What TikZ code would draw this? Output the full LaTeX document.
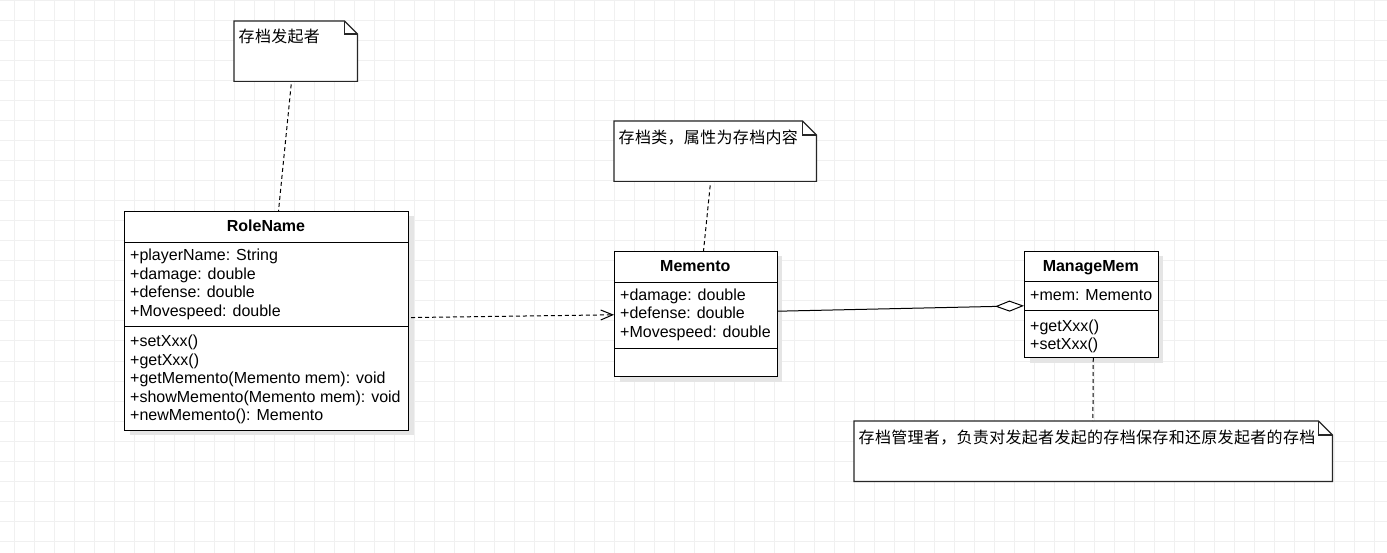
\documentclass[tikz,border=0pt]{standalone}
\usepackage{fontspec}
\setmainfont{Liberation Sans}
\newfontfamily\cjk[LetterSpace=2]{Noto Sans CJK SC}
\usetikzlibrary{arrows.meta,shadows}
\begin{document}
\begin{tikzpicture}[x=1pt,y=-1pt,
  gridline/.style={draw=black!6, line width=1pt},
  classbox/.style={draw=black, line width=1pt, fill=white, inner sep=0pt, anchor=north west,
    drop shadow={shadow xshift=5pt, shadow yshift=-5pt, fill=black!10, opacity=1}},
  sepline/.style={draw=black, line width=1pt},
  notebox/.style={draw=none, inner sep=0pt, anchor=north west},
  noteline/.style={draw=black!85, line width=1.2pt, fill=white, line join=miter},
  notetext/.style={anchor=base west, inner sep=0pt, font={\cjk\fontsize{16}{19}\selectfont}},
  attr/.style={anchor=base west, inner sep=0pt, font={\fontsize{16}{19}\selectfont}},
  head/.style={anchor=base, inner sep=0pt, font={\fontsize{16}{19}\selectfont\bfseries}},
  dashline/.style={draw=black, line width=1pt, dash pattern=on 4pt off 3pt},
  solidline/.style={draw=black, line width=1pt},
]
\useasboundingbox (0,0) rectangle (1387,553);
\fill[white] (0,0) rectangle (1387,553);
\foreach \x in {14,34,...,1374} \draw[gridline] (\x,0) -- (\x,553);
\foreach \y in {1,21,...,541} \draw[gridline] (0,\y) -- (1387,\y);

% ---------- notes ----------
\node[notebox, minimum width=123pt, minimum height=60pt] (n1) at (234,21) {};
\draw[noteline] (n1.north west) -- ([shift={(-13,0)}]n1.north east) -- ([shift={(0,13)}]n1.north east) -- (n1.south east) -- (n1.south west) -- cycle;
\draw[noteline, fill=none] ([shift={(-13,0)}]n1.north east) |- ([shift={(0,13)}]n1.north east);
\node[notetext] (n1t) at (238.5,42.5) {存档发起者};

\node[notebox, minimum width=202pt, minimum height=60pt] (n2) at (614,121) {};
\draw[noteline] (n2.north west) -- ([shift={(-14,0)}]n2.north east) -- ([shift={(0,14)}]n2.north east) -- (n2.south east) -- (n2.south west) -- cycle;
\draw[noteline, fill=none] ([shift={(-14,0)}]n2.north east) |- ([shift={(0,14)}]n2.north east);
\node[notetext] (n2t) at (618.5,144) {存档类，属性为存档内容};

\node[notebox, minimum width=478pt, minimum height=60pt] (n3) at (854,421) {};
\draw[noteline] (n3.north west) -- ([shift={(-14,0)}]n3.north east) -- ([shift={(0,14)}]n3.north east) -- (n3.south east) -- (n3.south west) -- cycle;
\draw[noteline, fill=none] ([shift={(-14,0)}]n3.north east) |- ([shift={(0,14)}]n3.north east);
\node[notetext] (n3t) at (858.5,443.5) {存档管理者，负责对发起者发起的存档保存和还原发起者的存档};

% ---------- RoleName ----------
\node[classbox, minimum width=284pt, minimum height=218.5pt] (role) at (124,211) {};
\draw[sepline] ([shift={(0,31.3)}]role.north west) -- ([shift={(0,31.3)}]role.north east);
\draw[sepline] ([shift={(0,116)}]role.north west) -- ([shift={(0,116)}]role.north east);
\node[head] (rh) at (266,231.5) {RoleName};
\node[attr] (ra1) at (130,261) {+playerName: String};
\node[attr] (ra2) at (130,279.5) {+damage: double};
\node[attr] (ra3) at (130,298) {+defense: double};
\node[attr] (ra4) at (130,316.5) {+Movespeed: double};
\node[attr] (rm1) at (130,346.5) {+setXxx()};
\node[attr] (rm2) at (130,365) {+getXxx()};
\node[attr] (rm3) at (130,383.5) {+getMemento(Memento mem): void};
\node[attr] (rm4) at (130,402) {+showMemento(Memento mem): void};
\node[attr] (rm5) at (130,420.5) {+newMemento(): Memento};

% ---------- Memento ----------
\node[classbox, minimum width=162.7pt, minimum height=125pt] (mem) at (614,251) {};
\draw[sepline] ([shift={(0,31.3)}]mem.north west) -- ([shift={(0,31.3)}]mem.north east);
\draw[sepline] ([shift={(0,97.3)}]mem.north west) -- ([shift={(0,97.3)}]mem.north east);
\node[head] (mh) at (695.35,271.5) {Memento};
\node[attr] (ma1) at (620,300.5) {+damage: double};
\node[attr] (ma2) at (620,319) {+defense: double};
\node[attr] (ma3) at (620,337.5) {+Movespeed: double};

% ---------- ManageMem ----------
\node[classbox, minimum width=133.5pt, minimum height=106pt] (mgr) at (1024,251) {};
\draw[sepline] ([shift={(0,31)}]mgr.north west) -- ([shift={(0,31)}]mgr.north east);
\draw[sepline] ([shift={(0,60)}]mgr.north west) -- ([shift={(0,60)}]mgr.north east);
\node[head] (gh) at (1090.75,271.5) {ManageMem};
\node[attr] (ga1) at (1030,300.5) {+mem: Memento};
\node[attr] (gm1) at (1030,331) {+getXxx()};
\node[attr] (gm2) at (1030,349.5) {+setXxx()};

% ---------- connectors ----------
\draw[dashline] ([shift={(-4.5,3)}]n1.south) -- ([shift={(12,0)}]role.north);
\draw[dashline] ([shift={(-5,4)}]n2.south) -- ([shift={(7.65,0)}]mem.north);
\draw[dashline] ([shift={(2,0)}]mgr.south) -- ([shift={(-0.3,0)}]n3.north);
\draw[dashline, -{Straight Barb[length=12pt, width=10pt, line width=1pt]}] ([shift={(2,-3.2)}]role.east) -- ([shift={(0,0.8)}]mem.west);
\draw[solidline, -{Diamond[open, length=29pt, width=11pt, line width=1pt, fill=white]}] ([shift={(0.3,-2.8)}]mem.east) -- ([shift={(0,1.3)}]mgr.west);
\end{tikzpicture}
\end{document}
